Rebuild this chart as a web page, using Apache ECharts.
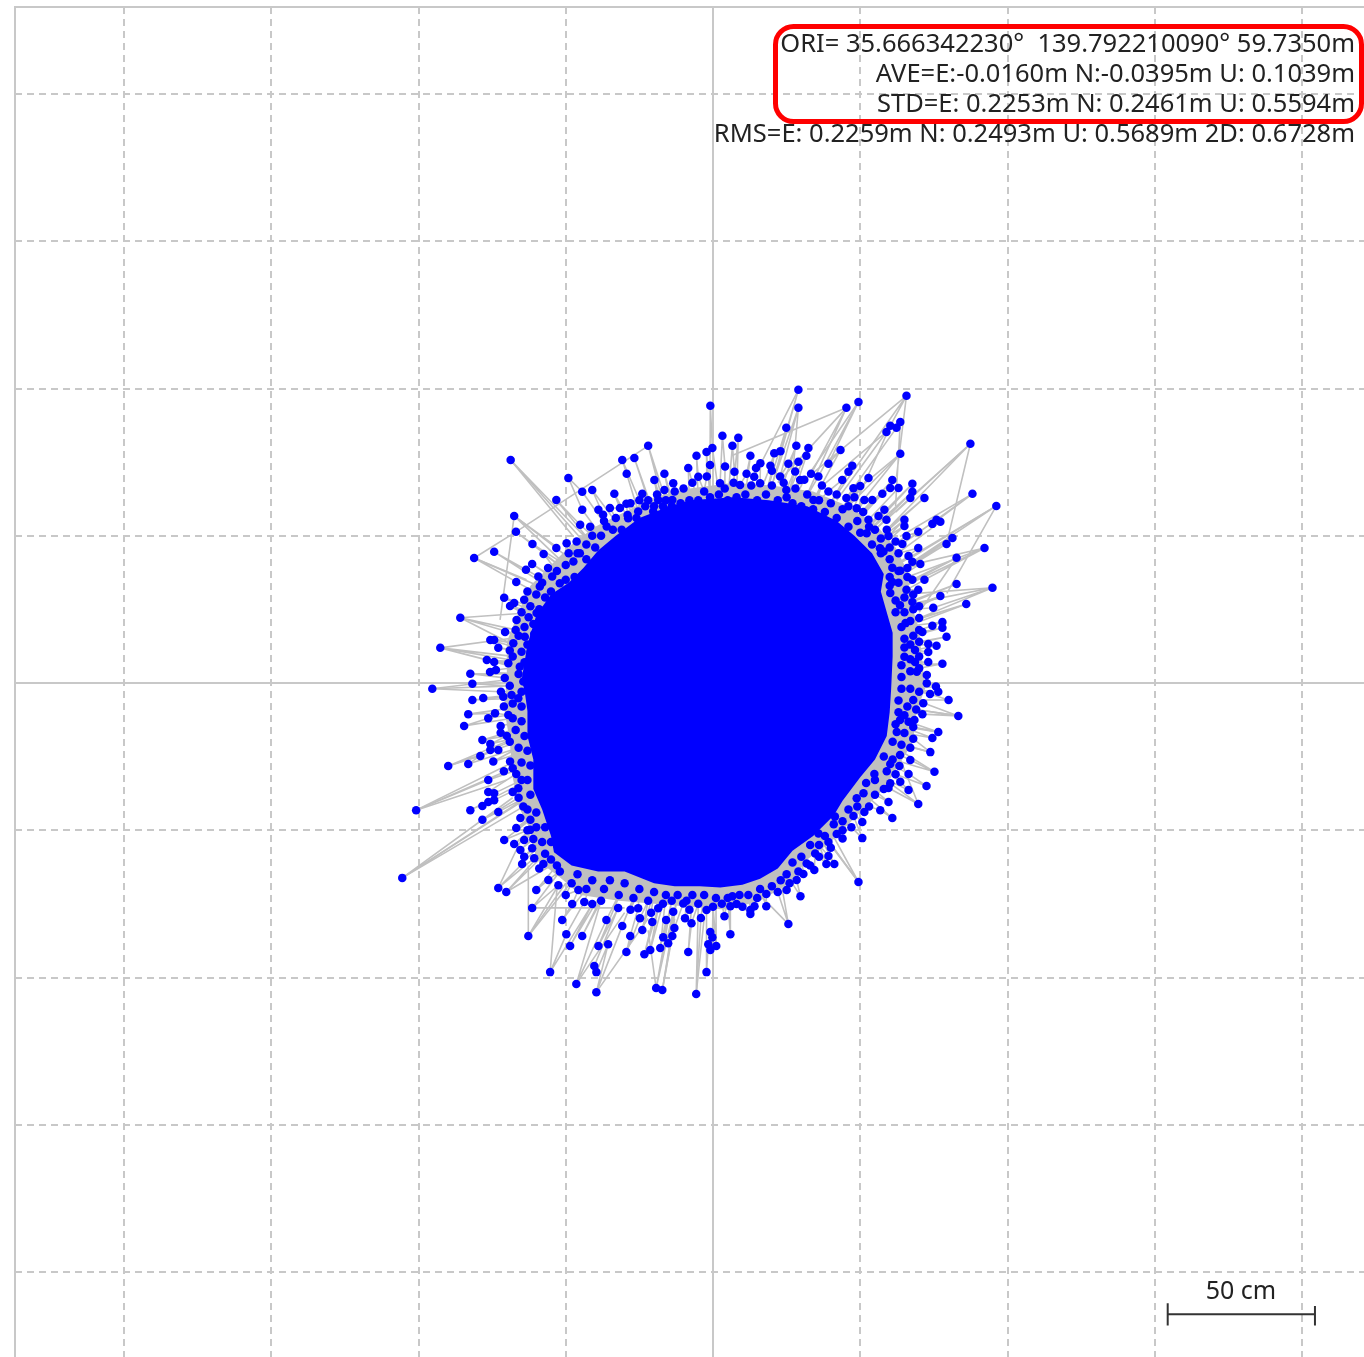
<!DOCTYPE html>
<html>
<head>
<meta charset="utf-8">
<style>
  html, body { margin: 0; padding: 0; background: #fff; }
  #main { width: 1364px; height: 1357px; }
</style>
<script src="https://cdn.jsdelivr.net/npm/echarts@6/dist/echarts.min.js"></script>
</head>
<body>
<div id="main"></div>
<script>
// all positions in cm, east / north of the origin
var gridTicks = [-200, -150, -100, -50, 0, 50, 100, 150, 200];

var statLines = [
  "ORI= 35.666342230\u00b0  139.792210090\u00b0 59.7350m",
  "AVE=E:-0.0160m N:-0.0395m U: 0.1039m",
  "STD=E: 0.2253m N: 0.2461m U: 0.5594m",
  "RMS=E: 0.2259m N: 0.2493m U: 0.5689m 2D: 0.6728m"
];

var scaleLabel = "50 cm";
var scaleBar = [[154.4, -210.6], [154.4, -218.2], "-", [154.4, -214.4], [204.4, -214.4], "-", [204.4, -211.6], [204.4, -218.2]];

// edge of the solid part of the cloud
var cloudOutline = [
  [-65, 1], [-63, 13], [-60, 23], [-55, 30], [-49, 34], [-44, 39], [-39, 45], [-33, 50], [-25, 56], [-16, 59.5], [-8, 62], [7, 63],
  [19, 62], [32, 60], [42, 55], [48, 50], [54, 44], [58, 37], [57, 31], [59, 24], [61, 17], [61, 9], [60.5, -2], [60, -10],
  [59, -18], [55, -26], [50, -32], [44, -40], [41, -45], [34, -52], [27, -57], [22, -63], [16, -66.5], [10, -68.5], [2.5, -69.5], [-4.5, -69],
  [-13, -69], [-20, -68], [-30, -64], [-39, -64], [-48, -62], [-54, -57.5], [-55, -52], [-58, -43], [-61, -36], [-61, -26], [-63, -18], [-63, -9.5], [-64, -2.5]
];

// grey mesh of track lines just outside the solid part
var meshOutline = [
  [-70, 1], [-70, 14], [-66, 24], [-62, 33], [-55, 40], [-48, 47], [-40, 53], [-30, 58], [-20, 63], [-8, 66], [7, 68],
  [20, 67], [34, 65], [46, 60], [55, 54], [62, 46], [66, 38], [67, 28], [70, 18], [71, 8], [72, -2], [69, -10], [68, -20],
  [63, -28], [58, -36], [52, -42], [47, -47], [40, -54], [32, -60], [26, -68], [16, -74], [5, -77], [-8, -76], [-20, -75],
  [-32, -74], [-45, -72], [-52, -66], [-60, -60], [-62, -50], [-66, -42], [-68, -32], [-69, -20], [-71, -8]
];

var upperLeftPoints = [
  [-22, 80.5], [-30.8, 75.7], [-26.7, 76.4], [-68.7, 75.7], [-29.3, 71], [-49.1, 69.6], [-16.5, 71], [-19.9, 68.9], [-8.4, 73], [-5.6, 77.1],
  [-41, 65.5], [-44.4, 64.9], [-33.5, 64.2], [-24, 64.2], [-53.2, 62.1], [-67.5, 56.7], [-44.4, 58.8], [-38.9, 58.8], [-35, 59.4], [-29.4, 60.8],
  [-31.6, 59.4], [-66.9, 51.3], [-45.1, 53.7], [-41.7, 53], [-61.3, 47.2], [-74.3, 44.5], [-81.1, 42.4], [-57.5, 43.8], [-53.2, 45.8], [-49.7, 47.4],
  [-46.3, 48], [-61.4, 40.4], [-63.5, 38.4], [-66.8, 34.3], [-59.3, 36.1], [-54.6, 36.1], [-70.9, 28.9], [-64.1, 28.2], [-67.5, 27.1], [-68.9, 26.1],
  [-85.8, 22.1], [-66.7, 21.4], [-62.6, 22.3], [-70.6, 17.3], [-63.9, 15.7], [-60.7, 16.6], [-75.6, 14.6], [-74.3, 14.6], [-92.6, 11.9], [-72.9, 11.9],
  [-67.8, 13.5], [-76.8, 7.8], [-74.3, 7.1], [-69.5, 6.7], [-65, 10.6], [-61.9, 10.6], [-82.4, 3.1], [-75.7, 3.7], [-73.7, 4.4], [-70.7, 1.7],
  [-65.6, 5.5], [-81.7, -0.3], [-64.4, 0.5], [-95.3, -2], [-58.8, 32.7], [-52, 33.8], [-13.8, 62.1], [-18.6, 62.1], [-13.5, 67.8], [-16.5, 65.5],
  [-37.3, 57.1], [-28.8, 55.9], [-25.4, 58.2], [-20.3, 58.2], [-16.3, 58.8], [-36.1, 53.1], [-45.2, 44], [-47.4, 41.2], [-59.9, 23.7]
];

var upperRightPoints = [
  [29, 99.5], [65.7, 97.5], [49.4, 95.4], [45.3, 93.4], [29, 93.4], [-0.9, 94.1], [63.6, 88.6], [60.2, 87.3], [62.3, 86.6], [58.9, 85.2],
  [24.9, 86.6], [3.2, 83.9], [8.6, 83.2], [87.4, 81.2], [6.6, 80.5], [28.3, 80.5], [32.4, 79.8], [43.3, 79.1], [-0.2, 79.8], [-2.2, 78.4],
  [22.9, 78.7], [20.8, 78], [63.6, 77.8], [31.7, 77.1], [12.7, 77.1], [29, 75.1], [16.1, 74.6], [39.2, 74.4], [25.6, 74.4], [19.5, 73.7],
  [47.3, 73.7], [14.6, 73], [46, 71.7], [27.9, 71.8], [7.3, 71.7], [4.1, 73.5], [11.4, 71], [52.8, 69.6], [33.3, 71], [60.9, 68.9],
  [67.7, 67.6], [43.9, 68.9], [63, 66.2], [50, 66.9], [60.2, 66.2], [88.1, 64.2], [67.7, 64.9], [24.9, 65.5], [71.8, 62.8], [67, 62.8],
  [57.5, 64.2], [45.3, 62.8], [51.4, 62.1], [54.1, 62.1], [96.2, 60.1], [58.2, 58.8], [52.8, 55.4], [56.2, 56.7], [58.9, 55.4], [65, 55.4],
  [75.9, 55.4], [74.5, 54], [77.2, 54.7], [65, 53.3], [69.7, 51.3], [81.3, 49.2], [59.6, 49.9], [65.7, 49.9], [79.3, 47.2], [64.3, 47.2],
  [92.2, 45.8], [69.7, 45.8], [82.7, 42.5], [57.9, 44.6], [66.4, 43.1], [67.7, 41.1], [70.4, 40.4], [60.9, 39.1], [63.6, 38.1], [71.8, 35],
  [67.7, 35], [60.9, 34.3], [82.7, 33.6], [94.9, 32.3], [69.7, 31.6], [65.7, 31.6], [77.2, 29.5], [67.7, 27.5], [86, 26.8], [60.2, 30.5],
  [74.8, 25.5], [63.5, 26.4], [77.9, 20.7], [74.5, 19.4], [77.9, 18.7], [65.4, 20.3], [71.1, 17.3], [79.3, 15.7], [73.1, 13.2], [75.9, 12.6],
  [68.6, 11.2], [73.1, 10.5], [65, 8.9], [73.1, 7.1], [77.9, 6.5], [68.6, 7.1], [69.2, 3.8], [72.6, 2.7], [72.6, -0.1], [75.7, -1.2],
  [-2.1, 70.1], [2.4, 67.8], [9.2, 67.2], [16, 67.8], [22.8, 70.1], [29.6, 68.9], [35.8, 70.1], [39.2, 65], [34.1, 62.1], [47.7, 66.1],
  [48.8, 59.3], [52.2, 50.8], [56.7, 45.7]
];

var lowerLeftPoints = [
  [-81.7, -5.8], [-78, -5.1], [-83.1, -10.6], [-74, -10.3], [-76.3, -12], [-69.5, -10.9], [-84.5, -14.6], [-72.1, -14.6], [-72.1, -16.9], [-78.3, -19.4],
  [-75.6, -20.7], [-72.9, -22.8], [-75.6, -22.8], [-79, -24.8], [-89.9, -28.2], [-83.1, -27.5], [-74.6, -26.7], [-68.9, -26.7], [-66.8, -30.9], [-76.3, -33],
  [-76.3, -37], [-74.3, -37.5], [-66.1, -35.8], [-100.8, -43.2], [-82.4, -43.2], [-78.3, -41.8], [-76.3, -40.4], [-74.3, -39.8], [-72.9, -43.8], [-64.4, -42],
  [-78.3, -46.5], [-65.4, -45.9], [-62, -46.5], [-66.8, -49.3], [-62.1, -49.9], [-70.9, -53.3], [-64.1, -53.3], [-67.5, -54.7], [-65.4, -56.7], [-61.4, -56.1],
  [-64.1, -59], [-60.7, -59.5], [-64.8, -61.5], [-57.6, -61.5], [-105.5, -66.2], [-55.9, -66.9], [-52.5, -68.7], [-72.9, -69.6], [-70.2, -71], [-60, -70.3],
  [-45.7, -70.3], [-47.8, -75.1], [-43.7, -74.4], [-41, -75.1], [-61.4, -76.4], [-32.2, -76.4], [-51.2, -80.5], [-36.2, -80.5], [-30.8, -82.5], [-24, -83.9],
  [-20.6, -81.2], [-15.9, -80.5], [-25.4, -76.5], [-24.8, -79.9], [-18.6, -76.5], [-13.5, -77.7], [-9.5, -79.9], [-7.3, -81.6], [-10.1, -74.9], [-49.8, -85.3],
  [-62.7, -85.9], [-44.4, -85.9], [-28.1, -85.9], [-38.9, -89.3], [-35.6, -88.7], [-48.5, -89.3], [-29.4, -91.4], [-23.3, -92.1], [-21.3, -90.7], [-17.9, -90],
  [-16.9, -86.4], [-13.8, -85.9], [-15.2, -88.4], [-13.1, -83.2], [-8.4, -91.4], [-40.3, -96.1], [-39.6, -98.2], [-55.3, -98.2], [-46.4, -102.2], [-39.6, -105],
  [-19.3, -103.6], [-17.2, -104.3], [-5.7, -105.6], [-71.2, -4.7], [-68.4, -4.1], [-66.1, -5.2]
];

var lowerRightPoints = [
  [80, -5.8], [76.5, -3], [73.7, -3.8], [71.4, -6.9], [68, -5.8], [83.3, -11.2], [71.1, -10.6], [68.4, -12.6], [66.4, -13.2], [63.5, -12.6],
  [76.5, -16.7], [74.5, -18.7], [62.4, -16.7], [73.8, -23.5], [63.5, -24.5], [67, -26.2], [60.2, -27.5], [63.3, -28.2], [75.2, -30.2], [66.4, -30.9],
  [54.8, -30.9], [72.5, -35], [63.6, -33.6], [60.2, -34.1], [59.6, -35.7], [66.4, -36.4], [69.7, -41.1], [59.6, -40.4], [56.8, -43.2], [60.9, -45.9],
  [51.1, -37.5], [48.8, -39.2], [51.4, -43.8], [47.7, -45.2], [50.7, -47.2], [50.7, -52.7], [44, -52.8], [42, -51.3], [39.2, -54], [39.2, -58.8],
  [41.2, -61.5], [38.5, -61.5], [49.4, -67.6], [34.4, -63.5], [34.7, -57.9], [31.8, -61.3], [30.7, -64.9], [28.4, -66.9], [25, -70.3], [29.7, -72.4],
  [18.1, -71.7], [18.1, -75.8], [25.6, -81.9], [14.1, -75.8], [12.7, -77.1], [12.7, -78.5], [8, -75.1], [5.9, -75.8], [6.6, -72.4], [3.9, -79.2],
  [-2.2, -77.1], [5.9, -85.3], [-0.9, -84.6], [-0.2, -86.4], [-1.6, -88.7], [1.1, -89.3], [-0.9, -90.7], [-2.2, -98.2], [-4.1, -79.8], [41.4, -45.4],
  [35.8, -51.1]
];

// crowded fixes hugging the solid part, estimated by eye
var fringeTopPoints = [
  [-66, 3], [-64, 7], [-68, 9], [-63, 13], [-66, 16], [-69, 11], [-61, 20], [-64, 19], [-67, 18], [-59, 25], [-62, 26], [-65, 24], [-57, 29], [-60, 30], [-63, 31],
  [-55, 31], [-58, 34], [-50, 35], [-53, 38], [-56, 39], [-47, 36], [-50, 40], [-43, 42], [-46, 44], [-49, 44], [-40, 46], [-43, 47], [-38, 50], [-41, 50], [-34, 52],
  [-37, 55], [-31, 52], [-33, 56], [-29, 57], [-26, 56], [-28, 61], [-23, 60], [-25, 62], [-20, 60], [-22, 62], [-17, 60], [-19, 64], [-14, 60], [-16, 62], [-11, 61],
  [-13, 65], [-8, 62], [-10, 66], [-5, 62], [-7, 68], [-3, 65], [-1, 63], [-5, 70], [-1, 74], [2, 64], [5, 62], [4, 66], [8, 63], [7, 68], [11, 64], [13, 67], [15, 62],
  [14, 70], [18, 64], [20, 67], [22, 62], [20, 72], [25, 63], [24, 68], [27, 61], [28, 66], [30, 60], [32, 64], [31, 69], [34, 59], [36, 62], [37, 67], [38, 58], [40, 61],
  [42, 64], [42, 56], [44, 59], [46, 60], [48, 63], [46, 53], [49, 55], [51, 58], [50, 51], [53, 53], [55, 52], [54, 47], [57, 49], [59, 52], [57, 44], [60, 46], [62, 48],
  [60, 42], [63, 44]
];

var fringeRightPoints = [
  [60, 36], [63, 38], [66, 39], [60, 33], [63, 34], [66, 36], [62, 28], [65, 29], [68, 30], [62, 24], [65, 24], [68, 25], [70, 26], [64, 19], [67, 21], [70, 22], [65, 15],
  [68, 16], [70, 18], [65, 12], [67, 13], [70, 14], [64, 6], [67, 8], [70, 9], [64, 2], [67, 4], [70, 5], [64, -2], [67, -2], [70, -3], [63, -6], [66, -8], [69, -9], [63, -10],
  [65, -11], [68, -15], [62, -14], [65, -17], [68, -19], [61, -20], [64, -21], [67, -22], [58, -25], [61, -26], [59, -30], [62, -31], [55, -33], [58, -36], [52, -34], [55, -38],
  [49, -42], [46, -43], [53, -42], [44, -47], [47, -49], [41, -48], [44, -50]
];

var fringeBottomPoints = [
  [38, -52], [36, -55], [40, -56], [33, -55], [36, -59], [30, -59], [33, -62], [27, -61], [29, -64], [25, -65], [23, -67], [26, -68], [20, -69], [22, -71], [16, -70], [15, -73],
  [12, -72], [9, -72], [10, -76], [5, -73], [3, -75], [1, -73], [0, -76], [-3, -72], [-5, -75], [-7, -72], [-9, -74], [-8, -77], [-12, -72], [-14, -74], [-16, -72], [-17, -75],
  [-20, -71], [-22, -74], [-21, -78], [-25, -70], [-27, -73], [-28, -77], [-30, -68], [-32, -72], [-35, -67], [-37, -70], [-38, -74], [-41, -67], [-43, -70], [-46, -65], [-48, -68], [-50, -72]
];

var fringeLeftPoints = [
  [-53, -62], [-55, -60], [-52, -64], [-57, -58], [-59, -63], [-55, -54], [-58, -54], [-61, -53], [-57, -49], [-60, -49], [-63, -50], [-60, -44], [-63, -43], [-66, -39], [-62, -38],
  [-65, -33], [-63, -33], [-68, -37], [-62, -28], [-65, -27], [-68, -29], [-71, -30], [-63, -23], [-66, -22], [-69, -20], [-64, -18], [-67, -16], [-70, -18], [-65, -13], [-68, -12],
  [-71, -8], [-65, -8], [-68, -7], [-65, -3], [-69, -1], [-72, -3]
];

// long grey runs that reach out to the far fixes
var spikeLines = [
  [-68.7, 75.7], [-47.4, 49.7], "-", [-22, 80.5], [-66.9, 51.3], [-81.1, 42.4], [-63.3, 35], "-",
  [-67.5, 56.7], [-53.2, 46.3], "-", [-67.5, 56.7], [-72.3, 21.4], "-", [-85.8, 22.1], [-60, 24], "-", [-85.8, 22.1], [-62, 10], "-",
  [-92.6, 11.9], [-62, 16], "-", [-92.6, 11.9], [-62, 4], "-", [-95.3, -2], [-62, 2], "-",
  [29, 99.5], [14, 70], "-", [29, 93.4], [27, 70], "-", [45.3, 93.4], [6.9, 77.4], "-", [45.3, 93.4], [22, 68], "-", [49.4, 95.4], [32, 70], "-",
  [65.7, 97.5], [30, 68], "-", [65.7, 97.5], [62.3, 70], "-", [58.9, 85.2], [36, 66], "-", [58.9, 85.2], [42, 62], "-", [60.2, 87.3], [48, 60], "-",
  [63.6, 77.8], [47, 64], "-", [63.6, 88.6], [62, 60], "-", [87.4, 81.2], [62, 58], "-", [87.4, 81.2], [79.3, 47.2], "-",
  [96.2, 60.1], [68, 42.9], "-", [96.2, 60.1], [79.4, 30.4], "-", [88.1, 64.2], [63.5, 49.7], "-", [92.2, 45.8], [67, 40], "-", [92.2, 45.8], [66, 36], "-",
  [94.9, 32.3], [69.2, 30.4], "-", [94.9, 32.3], [68, 27], "-", [86, 26.8], [68, 20], "-", [82.7, 42.5], [70, 24], "-",
  [83.3, -11.2], [62, -8], "-", [83.3, -11.2], [64, -4], "-", [76.5, -16.7], [60, -14], "-", [73.8, -23.5], [60, -20], "-", [75.2, -30.2], [62, -22], "-",
  [69.7, -41.1], [62, -22], "-", [49.4, -67.6], [37, -45], "-", [49.4, -67.6], [35, -48], "-", [25.6, -81.9], [14, -70], "-",
  [-105.5, -66.2], [-68, -39], "-", [-105.5, -66.2], [-66, -41], "-", [-100.8, -43.2], [-66, -26], "-", [-100.8, -43.2], [-70, -33], "-",
  [-89.9, -28.2], [-68, -19], "-", [-89.9, -28.2], [-69, -21], "-", [-72.9, -69.6], [-65, -53], "-", [-70.2, -71], [-55, -62], "-",
  [-62.7, -85.9], [-62.7, -62], "-", [-62.7, -85.9], [-50, -68], "-", [-61.4, -76.4], [-30, -76.4], "-", [-55.3, -98.2], [-53, -70], "-",
  [-46.4, -102.2], [-30, -78], "-", [-39.6, -105], [-22, -80], "-", [-19.3, -103.6], [-22, -84], "-", [-17.2, -104.3], [-13, -80], "-", [-5.7, -105.6], [-3, -80]
];

var allPoints = upperLeftPoints.concat(upperRightPoints, lowerLeftPoints, lowerRightPoints, fringeTopPoints, fringeRightPoints, fringeBottomPoints, fringeLeftPoints);

// the track walks round the cloud, so neighbours in bearing get joined
var trackPoints = allPoints.slice().sort(function (a, b) {
  return Math.atan2(a[1], a[0]) - Math.atan2(b[1], b[0]);
});

var chart = echarts.init(document.getElementById("main"));

var gridLineStyle = { color: "#c8c8c8", width: 2, type: [7, 5] };
var trackColor = "#c0c0c0";
var dotColor = "#0000ff";
var textFont = '"Noto Sans", sans-serif';

function outlineSeries(name, outline, color, z) {
  return {
    name: name,
    type: "custom",
    z: z,
    silent: true,
    data: [0],
    renderItem: function (params, api) {
      return {
        type: "polygon",
        shape: { points: outline.map(function (p) { return api.coord(p); }) },
        style: { fill: color }
      };
    }
  };
}

var statText = statLines.map(function (line, i) {
  return {
    type: "text",
    z: 10,
    style: { x: 1355, y: 45 + i * 30, text: line, fill: "#222", font: "25.5px " + textFont, textAlign: "right", textVerticalAlign: "middle" }
  };
});

var option = {
  animation: false,
  backgroundColor: "#fff",
  grid: { left: 15, top: 7, right: -3, bottom: -3, outerBoundsMode: "none", show: true, borderColor: "#c8c8c8", borderWidth: 2, backgroundColor: "#fff" },
  xAxis: {
    type: "value",
    min: -237,
    max: 222.07,
    axisLine: { show: true, onZero: true, lineStyle: { color: "#c8c8c8", width: 2 } },
    axisTick: { show: false, customValues: gridTicks },
    axisLabel: { show: false, customValues: gridTicks },
    splitLine: { show: true, lineStyle: gridLineStyle }
  },
  yAxis: {
    type: "value",
    min: -229.9,
    max: 229.5,
    axisLine: { show: true, onZero: true, lineStyle: { color: "#c8c8c8", width: 2 } },
    axisTick: { show: false, customValues: gridTicks },
    axisLabel: { show: false, customValues: gridTicks },
    splitLine: { show: true, lineStyle: gridLineStyle }
  },
  graphic: statText.concat([
    {
      type: "rect",
      z: 11,
      shape: { x: 775.5, y: 26.5, width: 586, height: 95, r: 18 },
      style: { fill: "transparent", stroke: "#ff0000", lineWidth: 5 }
    },
    {
      type: "text",
      z: 10,
      style: { x: 1241, y: 1292, text: scaleLabel, fill: "#222", font: "25px " + textFont, textAlign: "center", textVerticalAlign: "middle" }
    }
  ]),
  series: [
    {
      name: "track",
      type: "line",
      z: 2,
      silent: true,
      showSymbol: false,
      data: trackPoints,
      lineStyle: { color: trackColor, width: 1.6 }
    },
    {
      name: "spikes",
      type: "line",
      z: 2,
      silent: true,
      showSymbol: false,
      connectNulls: false,
      data: spikeLines,
      lineStyle: { color: trackColor, width: 1.6 }
    },
    outlineSeries("mesh", meshOutline, trackColor, 3),
    outlineSeries("cloud", cloudOutline, dotColor, 3),
    {
      name: "fixes",
      type: "scatter",
      z: 4,
      silent: true,
      data: allPoints,
      symbol: "circle",
      symbolSize: 8.5,
      itemStyle: { color: dotColor, opacity: 1 }
    },
    {
      name: "scale",
      type: "line",
      z: 5,
      silent: true,
      showSymbol: false,
      connectNulls: false,
      data: scaleBar,
      lineStyle: { color: "#333", width: 2 }
    }
  ]
};
chart.setOption(option);
</script>
</body>
</html>
